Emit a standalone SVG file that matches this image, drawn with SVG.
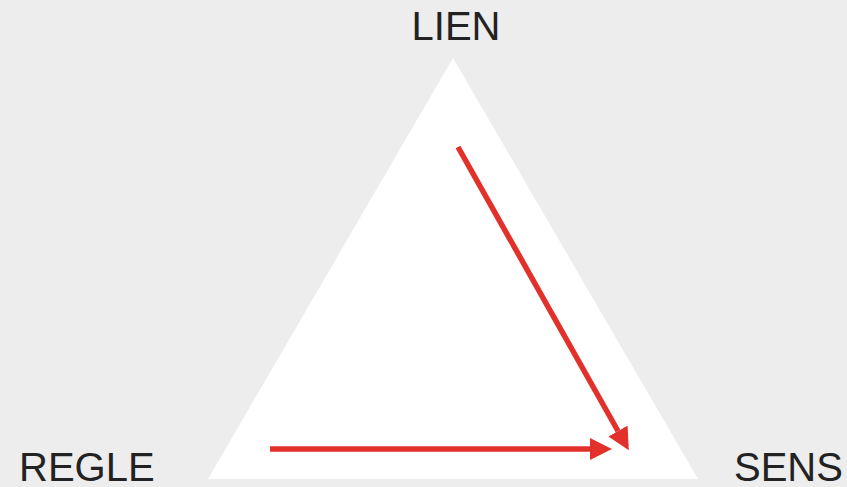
<svg xmlns="http://www.w3.org/2000/svg" width="847" height="487" viewBox="0 0 847 487">
<style>
.lbl{font-family:"Liberation Sans",Arial,sans-serif;font-size:40px;fill:#222222}
.arr{stroke:#e2302b;stroke-width:5.5;fill:none}
</style>
<defs>
<marker id="ah" markerUnits="userSpaceOnUse" markerWidth="22" markerHeight="22" viewBox="0 0 20 20" refX="0" refY="10" orient="auto">
<path d="M0,0 L20,10 L0,20 Z" fill="#e2302b"/>
</marker>
</defs>
<rect width="847" height="487" fill="#ededed"/>
<g id="triangle"><polygon points="453,58 208,479 698,479" fill="#ffffff"/></g>
<g id="lien"><text class="lbl" x="456" y="40" text-anchor="middle">LIEN</text></g>
<g id="regle"><text class="lbl" x="19" y="481">REGLE</text></g>
<g id="sens"><text class="lbl" x="734" y="481">SENS</text></g>
<g id="connectors">
<line class="arr" x1="270" y1="449" x2="590" y2="449" marker-end="url(#ah)"/>
<line class="arr" x1="458" y1="147" x2="618" y2="431" marker-end="url(#ah)"/>
</g>
</svg>
